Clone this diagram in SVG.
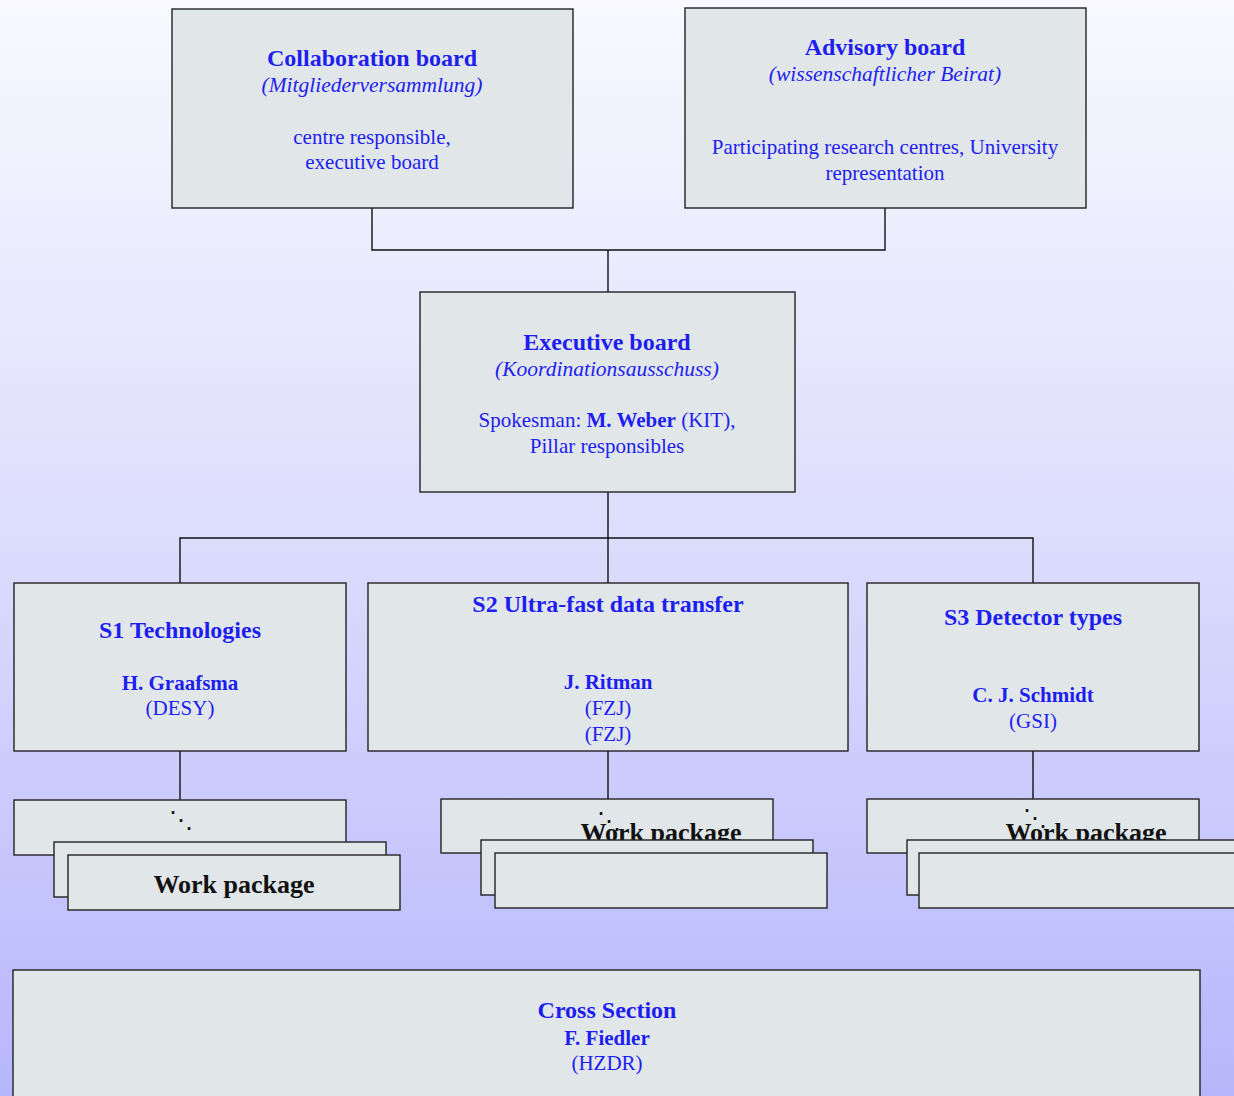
<svg xmlns="http://www.w3.org/2000/svg" width="1234" height="1096" viewBox="0 0 1234 1096">
<defs>
<linearGradient id="bg" x1="0" y1="0" x2="0" y2="1">
<stop offset="0" stop-color="#f9f9ff"/>
<stop offset="0.5" stop-color="#dcdcfd"/>
<stop offset="1" stop-color="#b6b6fc"/>
</linearGradient>
<style>
.box{fill:#e1e6e9;stroke:#222;stroke-width:1.4}
.con{fill:none;stroke:#111;stroke-width:1.4}
text{font-family:"Liberation Serif","Times New Roman",serif;text-anchor:middle;fill:#1e1ef0}
.t{font-size:24px;font-weight:bold}
.i{font-size:21.5px;font-style:italic}
.r{font-size:21px}
.b{font-size:21px;font-weight:bold}
.wp{font-size:26px;font-weight:bold;fill:#111}
.dots{font-family:"DejaVu Serif","Liberation Serif",serif;font-size:24px;fill:#111}
</style>
</defs>
<rect x="0" y="0" width="1234" height="1096" fill="url(#bg)"/>

<g id="connectors">
<path class="con" d="M372,208 V250 H885 V208"/>
<path class="con" d="M608,250 V292"/>
<path class="con" d="M608,492 V538"/>
<path class="con" d="M180,583 V538 H1033 V583"/>
<path class="con" d="M608,538 V583"/>
<path class="con" d="M180,751 V800"/>
<path class="con" d="M608,751 V799"/>
<path class="con" d="M1033,751 V799"/>
</g>

<g id="collaboration-board">
<rect class="box" x="172" y="9" width="401" height="199"/>
<text class="t" x="372" y="66">Collaboration board</text>
<text class="i" x="372" y="92">(Mitgliederversammlung)</text>
<text class="r" x="372" y="144">centre responsible,</text>
<text class="r" x="372" y="169">executive board</text>
</g>

<g id="advisory-board">
<rect class="box" x="685" y="8" width="401" height="200"/>
<text class="t" x="885" y="55">Advisory board</text>
<text class="i" x="885" y="81">(wissenschaftlicher Beirat)</text>
<text class="r" x="885" y="154">Participating research centres, University</text>
<text class="r" x="885" y="180">representation</text>
</g>

<g id="executive-board">
<rect class="box" x="420" y="292" width="375" height="200"/>
<text class="t" x="607" y="350">Executive board</text>
<text class="i" x="607" y="376">(Koordinationsausschuss)</text>
<text class="r" x="607" y="427">Spokesman: <tspan font-weight="bold">M. Weber</tspan> (KIT),</text>
<text class="r" x="607" y="453">Pillar responsibles</text>
</g>

<g id="s1">
<rect class="box" x="14" y="583" width="332" height="168"/>
<text class="t" x="180" y="638">S1 Technologies</text>
<text class="b" x="180" y="690">H. Graafsma</text>
<text class="r" x="180" y="715">(DESY)</text>
</g>

<g id="s2">
<rect class="box" x="368" y="583" width="480" height="168"/>
<text class="t" x="608" y="612">S2 Ultra-fast data transfer</text>
<text class="b" x="608" y="689">J. Ritman</text>
<text class="r" x="608" y="715">(FZJ)</text>
<text class="r" x="608" y="741">(FZJ)</text>
</g>

<g id="s3">
<rect class="box" x="867" y="583" width="332" height="168"/>
<text class="t" x="1033" y="625">S3 Detector types</text>
<text class="b" x="1033" y="702">C. J. Schmidt</text>
<text class="r" x="1033" y="728">(GSI)</text>
</g>

<g id="s1-work-packages">
<rect class="box" x="14" y="800" width="332" height="55"/>
<text class="dots" x="181" y="828">⋱</text>
<rect class="box" x="54" y="842" width="332" height="55"/>
<rect class="box" x="68" y="855" width="332" height="55"/>
<text class="wp" x="234" y="893">Work package</text>
</g>

<g id="s2-work-packages">
<rect class="box" x="441" y="799" width="332" height="54"/>
<text class="dots" x="609" y="829">⋱</text>
<text class="wp" x="661" y="841">Work package</text>
<rect class="box" x="481" y="840" width="332" height="55"/>
<rect class="box" x="495" y="853" width="332" height="55"/>
</g>

<g id="s3-work-packages">
<rect class="box" x="867" y="799" width="332" height="54"/>
<text class="dots" x="1035" y="826">⋱</text>
<text class="wp" x="1086" y="841">Work package</text>
<rect class="box" x="907" y="840" width="340" height="55"/>
<rect class="box" x="919" y="853" width="340" height="55"/>
</g>

<g id="cross-section">
<rect class="box" x="13" y="970" width="1187" height="140"/>
<text class="t" x="607" y="1018">Cross Section</text>
<text class="b" x="607" y="1045">F. Fiedler</text>
<text class="r" x="607" y="1070">(HZDR)</text>
</g>
</svg>
